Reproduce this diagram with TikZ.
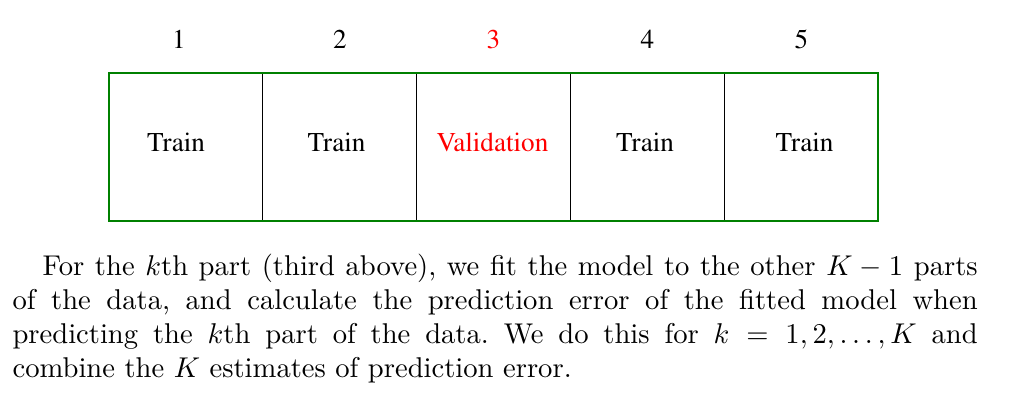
\documentclass[tikz,border=0pt]{standalone}
\usepackage[T1]{fontenc}
\usepackage{fontspec}
\newcommand\foldfont{\fontencoding{T1}\fontfamily{ptm}\selectfont}
\usepackage{tikz}
\usetikzlibrary{positioning}
\definecolor{fold_green}{RGB}{0,128,0}
\definecolor{fold_red}{RGB}{255,0,0}
\tikzstyle{fold_box} = [
    draw=black,
    line width=0.4pt,
    inner sep=0pt,
    outer sep=0pt,
    minimum width=53.78pt,
    minimum height=51.76pt
]
\tikzstyle{fold_text} = [
    font={\fontsize{9.5}{11}\foldfont},
    anchor=base,
    inner sep=0pt
]
\tikzstyle{note_text} = [
    font=\fontsize{10}{12}\selectfont\frenchspacing,
    anchor=base west,
    inner sep=0pt,
    text width=337.5pt,
    align=justify
]

\begin{document}
\begin{tikzpicture}[x=0.3497pt, y=-0.3497pt]
\useasboundingbox (0,0) rectangle (1013,418);
% the five folds
\node [fold_box] (f1) at (185.9,147) {};
\node [fold_box, right=0pt of f1] (f2) {};
\node [fold_box, right=0pt of f2] (f3) {};
\node [fold_box, right=0pt of f3] (f4) {};
\node [fold_box, right=0pt of f4] (f5) {};
\draw [fold_green, line width=0.4pt] (f1.north west) rectangle (f5.south east);
% fold numbers
\node [fold_text] (n1) at (179,48) {1};
\node [fold_text] (n2) at (340,48) {2};
\node [fold_text, fold_red] (n3) at (493.5,48) {3};
\node [fold_text] (n4) at (647.5,48) {4};
\node [fold_text] (n5) at (801.5,48) {5};
% fold roles
\node [fold_text] (t1) at (176,151) {Train};
\node [fold_text] (t2) at (336.5,151) {Train};
\node [fold_text, fold_red] (t3) at (492.5,151) {Validation};
\node [fold_text] (t4) at (645,151) {Train};
\node [fold_text] (t5) at (804.5,151) {Train};
% explanation
\node [note_text] (note) at (12,275) {\hspace*{10.5pt}For the $k$th part (third above), we fit the model to the other $K-1$ parts\linebreak
of the data, and calculate the prediction error of the fitted model when\linebreak
predicting the $k$th part of the data. We do this for $k=1,2,\ldots,K$ and\linebreak
combine the $K$ estimates of prediction error.};
\end{tikzpicture}
\end{document}
